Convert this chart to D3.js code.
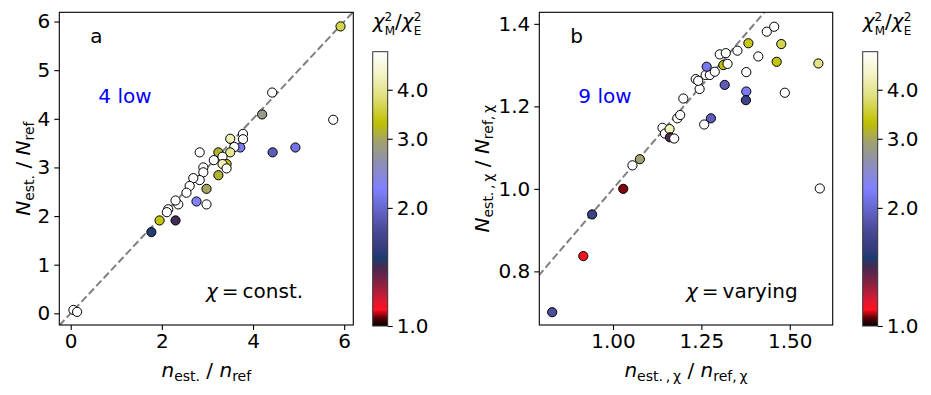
<!DOCTYPE html>
<html>
<head>
<meta charset="utf-8">
<script src="https://cdn.jsdelivr.net/npm/d3@7"></script>
<style>
  body { margin: 0; background: #fff; }
  text { font-family: "DejaVu Sans", sans-serif; fill: #000; }
</style>
</head>
<body>
<div id="chart"></div>
<script>
// panel a: chi = const.
const aX = [5.92, 4.42, 4.20, 5.76, 4.93, 4.43, 3.78, 3.78, 3.50, 3.72, 3.59, 3.50, 3.24, 2.83, 3.33, 3.42, 3.33, 3.42, 3.14,
            3.24, 2.91, 2.91, 2.83, 2.69, 2.61, 2.54, 2.98, 2.76, 2.98, 2.36, 2.30, 2.14, 2.11, 1.95, 2.30, 1.77, 0.06, 0.14];
const aY = [5.90, 4.54, 4.09, 3.98, 3.41, 3.31, 3.69, 3.58, 3.59, 3.41, 3.42, 3.31, 3.31, 3.31, 3.22, 3.07, 3.07, 2.98, 3.15,
            2.84, 3.00, 2.90, 2.74, 2.78, 2.62, 2.48, 2.56, 2.30, 2.24, 2.24, 2.32, 2.14, 2.08, 1.91, 1.91, 1.67, 0.07, 0.03];
const aChi = [3.62, 6, 2.8, 6, 2.1, 1.9, 6, 6, 4.26, 2.17, 6, 4.0, 3.13, 6, 6, 3.34, 4.3, 6, 6,
              3.13, 6, 6, 6, 6, 6, 6, 2.99, 2.24, 6, 6, 6, 6, 6, 3.34, 1.42, 1.52, 6, 6];

// panel b: chi = varying
const bX = [0.828, 0.916, 0.941, 1.029, 1.055, 1.076, 1.140, 1.147, 1.160, 1.161, 1.173, 1.182, 1.190, 1.199, 1.258, 1.277,
            1.234, 1.245, 1.241, 1.262, 1.274, 1.265, 1.288, 1.316, 1.302, 1.319, 1.312, 1.324, 1.352, 1.383, 1.411, 1.377,
            1.377, 1.376, 1.435, 1.456, 1.476, 1.463, 1.486, 1.581, 1.585];
const bY = [0.701, 0.837, 0.938, 1.000, 1.057, 1.072, 1.148, 1.134, 1.145, 1.125, 1.122, 1.171, 1.179, 1.219, 1.156, 1.171,
            1.266, 1.242, 1.262, 1.276, 1.276, 1.296, 1.284, 1.252, 1.326, 1.329, 1.300, 1.303, 1.335, 1.353, 1.321, 1.283,
            1.236, 1.215, 1.381, 1.393, 1.351, 1.308, 1.233, 1.304, 1.001];
const bChi = [1.78, 1.10, 1.65, 1.06, 6, 2.95, 6, 6, 4.3, 1.40, 6, 6, 6, 6, 6, 1.9,
              6, 6, 6, 6, 6, 2.15, 6, 1.9, 6, 6, 3.3, 6, 6, 3.4, 6, 6,
              2.2, 1.65, 6, 6, 3.62, 3.34, 6, 3.9, 6];

const aTicksX = [0, 2, 4, 6], aTicksY = [0, 1, 2, 3, 4, 5, 6];
const bTicksX = [1.0, 1.25, 1.5], bTicksY = [0.8, 1.0, 1.2, 1.4];
const cbTicks = [1, 2, 3, 4];

// colormap stops (position along the log colour axis)
const cmapPos = [0, 0.03, 0.06, 0.09, 0.15, 0.21, 0.25, 0.27, 0.35, 0.50, 0.60, 0.67, 0.74, 0.84, 0.92, 1];
const cmapCol = ['#000000', '#600008', '#ff1020', '#e01830', '#902040', '#4a2850', '#1a3c70', '#303a78', '#4a4a98',
                 '#8080ff', '#9090b0', '#a0a070', '#c0c000', '#e0e080', '#f4f4c8', '#ffffff'];

const W = 931, H = 395;
const svg = d3.select('#chart').append('svg').attr('width', W).attr('height', H);

const norm = d3.scaleLog().domain([1, 5]).range([0, 1]).clamp(true);
const cmap = d3.scaleLinear().domain(cmapPos).range(cmapCol);
const colorOf = v => cmap(norm(v));

const defs = svg.append('defs');
const grad = defs.append('linearGradient').attr('id', 'cbgrad')
    .attr('x1', 0).attr('y1', 1).attr('x2', 0).attr('y2', 0);
cmapPos.forEach((p, i) => grad.append('stop').attr('offset', p).attr('stop-color', cmapCol[i]));

function mathLabel(g, parts, size) {
    // parts: [text, kind] with kind 'i' italic, 'r' roman, 'sub', 'back' (back to baseline)
    const t = g.append('text').style('font-size', size + 'px');
    parts.forEach(([s, k]) => {
        const ts = t.append('tspan').text(s);
        if (k === 'i') ts.style('font-style', 'italic');
        if (k === 'sub') ts.style('font-size', (size * 0.7) + 'px').attr('dy', size * 0.22);
        if (k === 'back') ts.attr('dy', -size * 0.22);
    });
    return t;
}

function cbTitle(g, x0) {
    // chi^2_M / chi^2_E, superscript and subscript stacked
    const t = g.append('text').attr('x', x0).attr('y', 28).style('font-size', '20px');
    t.append('tspan').style('font-style', 'italic').text('χ');
    t.append('tspan').attr('dy', -7).style('font-size', '12px').text('2');
    t.append('tspan').attr('dx', -7.5).attr('dy', 14).style('font-size', '12px').text('M');
    t.append('tspan').attr('dy', -7).text('/');
    t.append('tspan').style('font-style', 'italic').text('χ');
    t.append('tspan').attr('dy', -7).style('font-size', '12px').text('2');
    t.append('tspan').attr('dx', -7.5).attr('dy', 14).style('font-size', '12px').text('E');
}

function drawPanel(o) {
    const x = d3.scaleLinear().domain(o.xDom).range([o.left, o.right]);
    const y = d3.scaleLinear().domain(o.yDom).range([o.bottom, o.top]);
    const g = svg.append('g');

    const clipId = 'clip-' + o.name;
    defs.append('clipPath').attr('id', clipId).append('rect')
        .attr('x', o.left).attr('y', o.top).attr('width', o.right - o.left).attr('height', o.bottom - o.top);

    const lo = Math.min(o.xDom[0], o.yDom[0]), hi = Math.max(o.xDom[1], o.yDom[1]);
    g.append('line').attr('clip-path', `url(#${clipId})`)
        .attr('x1', x(lo)).attr('y1', y(lo)).attr('x2', x(hi)).attr('y2', y(hi))
        .attr('stroke', '#808080').attr('stroke-width', 2).attr('stroke-dasharray', '7.5,3.3');

    g.append('g').attr('clip-path', `url(#${clipId})`)
        .selectAll('circle').data(o.xs).enter().append('circle')
        .attr('cx', (d, i) => x(o.xs[i]))
        .attr('cy', (d, i) => y(o.ys[i]))
        .attr('r', 4.6)
        .attr('fill', (d, i) => colorOf(o.cs[i]))
        .attr('stroke', '#000').attr('stroke-width', 1);

    const xa = g.append('g').attr('transform', `translate(0,${o.bottom})`)
        .call(d3.axisBottom(x).tickValues(o.xTicks).tickFormat(o.xFmt).tickSize(5).tickPadding(4));
    const ya = g.append('g').attr('transform', `translate(${o.left},0)`)
        .call(d3.axisLeft(y).tickValues(o.yTicks).tickFormat(o.yFmt).tickSize(5).tickPadding(4));
    [xa, ya].forEach(a => {
        a.select('.domain').remove();
        a.selectAll('text').style('font-size', '20px').style('font-family', '"DejaVu Sans", sans-serif');
        a.selectAll('line').attr('stroke', '#000').attr('stroke-width', 1.1);
    });

    g.append('rect').attr('x', o.left).attr('y', o.top)
        .attr('width', o.right - o.left).attr('height', o.bottom - o.top)
        .attr('fill', 'none').attr('stroke', '#000').attr('stroke-width', 1.1);

    g.append('text').attr('x', o.left + 31).attr('y', o.top + 31).style('font-size', '20px').text(o.name);
    g.append('text').attr('x', o.left + 39).attr('y', o.top + 91).style('font-size', '20px')
        .style('fill', '#0000ff').text(o.low);

    const note = mathLabel(g, [['χ', 'i'], ['\u2009=\u2009' + o.note, 'r']], 20);
    note.attr('x', o.noteX).attr('y', o.bottom - 27);

    const xl = mathLabel(g, o.xLabel, 20);
    xl.attr('x', (o.left + o.right) / 2).attr('y', 377).attr('text-anchor', 'middle');
    const yl = mathLabel(g, o.yLabel, 20);
    const cy = (o.top + o.bottom) / 2;
    yl.attr('text-anchor', 'middle').attr('transform', `translate(${o.yLabelX},${cy}) rotate(-90)`);

    // colorbar
    const cb = svg.append('g');
    const cy0 = 51.7, cy1 = 326;
    const cs = d3.scaleLog().domain([1, 5]).range([cy1, cy0]);
    cb.append('rect').attr('x', o.cbX).attr('y', cy0).attr('width', 15).attr('height', cy1 - cy0)
        .attr('fill', 'url(#cbgrad)').attr('stroke', '#333').attr('stroke-width', 1);
    const ca = cb.append('g').attr('transform', `translate(${o.cbX + 15},0)`)
        .call(d3.axisRight(cs).tickValues(cbTicks).tickFormat(d3.format('.1f')).tickSize(5).tickPadding(4));
    ca.select('.domain').remove();
    ca.selectAll('text').style('font-size', '20px').style('font-family', '"DejaVu Sans", sans-serif');
    ca.selectAll('line').attr('stroke', '#000').attr('stroke-width', 1.1);

    cbTitle(cb, o.cbX);
}

drawPanel({
    name: 'a', low: '4 low', note: 'const.', noteX: 206,
    left: 59.3, right: 353.3, top: 12.3, bottom: 325,
    xDom: [-0.25, 6.2], yDom: [-0.24, 6.19],
    xs: aX, ys: aY, cs: aChi,
    xTicks: aTicksX, yTicks: aTicksY, xFmt: d3.format('d'), yFmt: d3.format('d'),
    xLabel: [['n', 'i'], ['est.', 'sub'], [' / ', 'back'], ['n', 'i'], ['ref', 'sub']],
    yLabel: [['N', 'i'], ['est.', 'sub'], [' / ', 'back'], ['N', 'i'], ['ref', 'sub']],
    yLabelX: 30, cbX: 372.7
});

drawPanel({
    name: 'b', low: '9 low', note: 'varying', noteX: 686,
    left: 539.3, right: 832.7, top: 12.3, bottom: 325,
    xDom: [0.7915, 1.6215], yDom: [0.67, 1.428],
    xs: bX, ys: bY, cs: bChi,
    xTicks: bTicksX, yTicks: bTicksY, xFmt: d3.format('.2f'), yFmt: d3.format('.1f'),
    xLabel: [['n', 'i'], ['est.\u2009,\u2009χ', 'sub'], [' / ', 'back'], ['n', 'i'], ['ref,\u2009χ', 'sub']],
    yLabel: [['N', 'i'], ['est.\u2009,\u2009χ', 'sub'], [' / ', 'back'], ['N', 'i'], ['ref,\u2009χ', 'sub']],
    yLabelX: 489, cbX: 862.7
});
</script>
</body>
</html>
